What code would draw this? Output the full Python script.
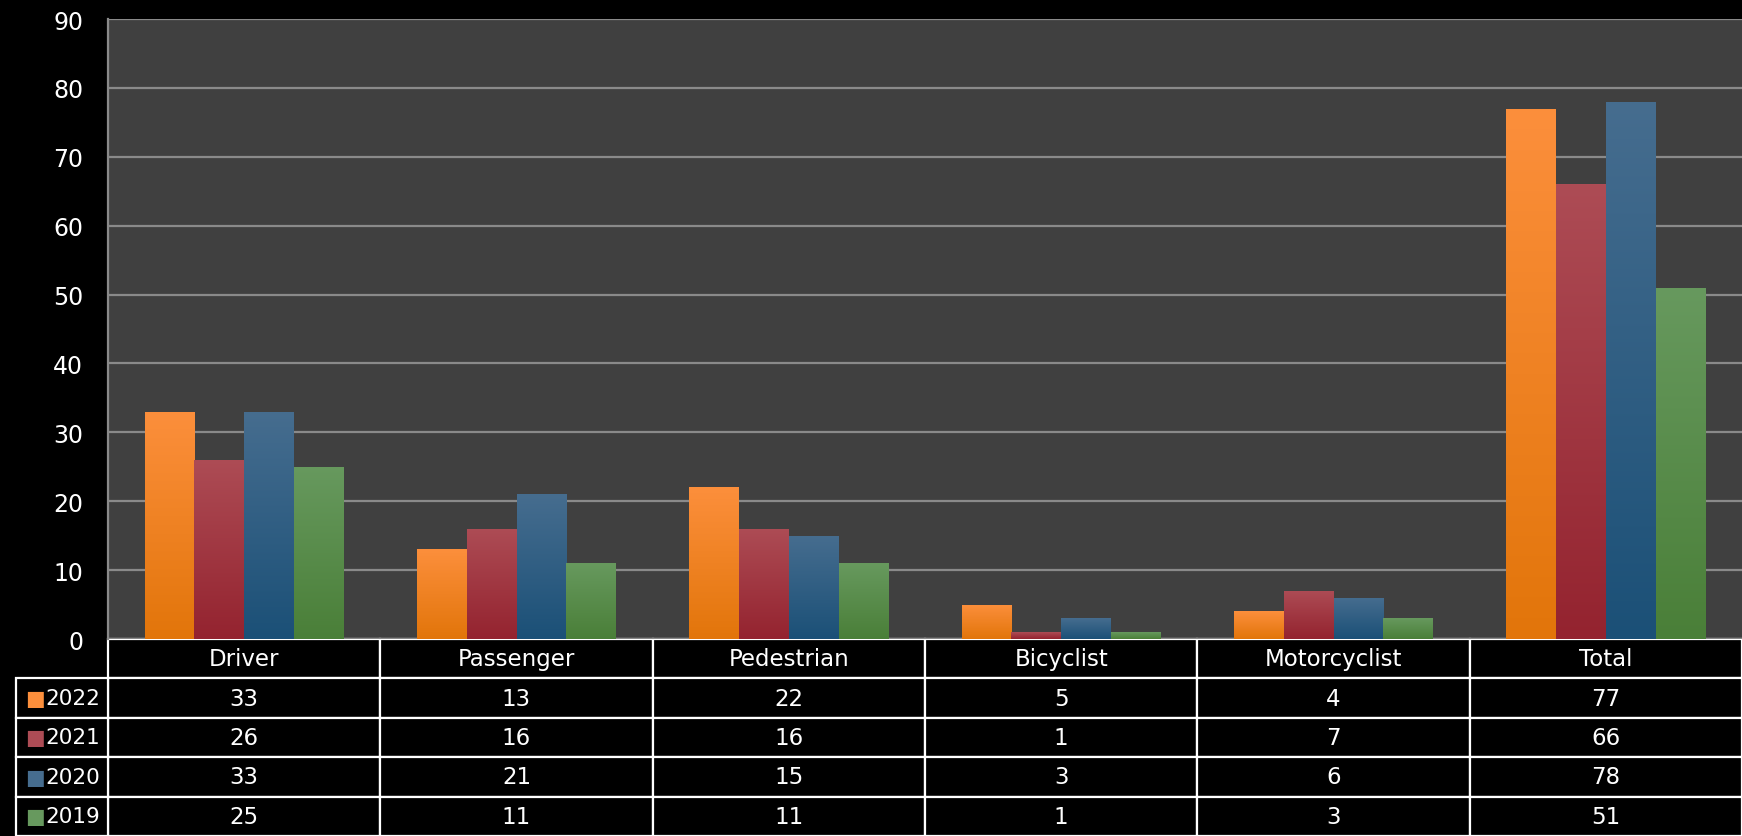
import numpy as np, pandas as pd, matplotlib
matplotlib.use('Agg')
import matplotlib.pyplot as plt, seaborn as sns
from matplotlib.colors import LinearSegmentedColormap

# chart data
categories = ["Driver", "Passenger", "Pedestrian", "Bicyclist", "Motorcyclist", "Total"]
years = ["2022", "2021", "2020", "2019"]
v2022 = [33, 13, 22, 5, 4, 77]
v2021 = [26, 16, 16, 1, 7, 66]
v2020 = [33, 21, 15, 3, 6, 78]
v2019 = [25, 11, 11, 1, 3, 51]

series = [v2022, v2021, v2020, v2019]
df = pd.DataFrame({'cat': categories * 4,
                   'year': [y for y in years for _ in categories],
                   'val': v2022 + v2021 + v2020 + v2019})

# top / bottom colours of each bar gradient
grad = {"2022": ("#fc8f3c", "#e2750a"),
        "2021": ("#ad4c55", "#94232f"),
        "2020": ("#466d8f", "#1b5077"),
        "2019": ("#67995e", "#4a7f38")}
mid = ["#f0822a", "#a03845", "#315f85", "#578c4a"]

sns.set_style('dark')
plt.rcParams['font.family'] = ['DejaVu Sans']

W, H = 1742, 837
fig = plt.figure(figsize=(W / 100, H / 100), dpi=100, facecolor='black')
left, right, top, bottom = 108, 1742, 20, 640
ax = fig.add_axes([left / W, 1 - bottom / H, (right - left) / W, (bottom - top) / H])
ax.set_facecolor('#404040')

sns.barplot(data=df, x='cat', y='val', hue='year', palette=mid, width=0.73,
            legend=False, ax=ax, saturation=1, linewidth=0)

ax.set_ylim(0, 90)
ax.set_xlim(-0.5, 5.5)
xl = ax.get_xlim()

# vertical gradients on each bar
for i, p in enumerate(ax.patches):
    yr = years[i // len(categories)]
    cmap = LinearSegmentedColormap.from_list(yr, [grad[yr][1], grad[yr][0]])
    x0, w, h = p.get_x(), p.get_width(), p.get_height()
    im = ax.imshow(np.linspace(0, 1, 256).reshape(-1, 1), cmap=cmap, origin='lower',
                   extent=[x0, x0 + w, 0, h], aspect='auto', zorder=p.get_zorder() + 0.1)
    im.set_clip_path(p)
ax.set_xlim(*xl)
ax.set_ylim(0, 90)
ax.set_aspect('auto')

ax.set_yticks(range(0, 91, 10))
ax.grid(axis='y', color='#8a8a8a', linewidth=1.6)
ax.set_axisbelow(True)
ax.tick_params(axis='y', colors='white', labelsize=17, length=0, pad=18)
ax.set_xticks([])
ax.set_xlabel('')
ax.set_ylabel('')
for s in ['top', 'right', 'bottom']:
    ax.spines[s].set_visible(False)
ax.spines['left'].set_color('#8a8a8a')
ax.spines['left'].set_linewidth(1.6)

# data table under the axes
axw, axh = right - left, bottom - top
tab_h = H - bottom
row_h = tab_h / 5
tbl = ax.table(cellText=[[str(v) for v in s] for s in series],
               colLabels=categories, cellLoc='center',
               bbox=[0, -tab_h / axh, 1, tab_h / axh])
# row label column (legend keys)
lab = ax.table(cellText=[[''] for _ in years], cellLoc='left',
               bbox=[-(left - 16) / axw, -tab_h / axh, (left - 16) / axw, 4 * row_h / axh])
for t in (tbl, lab):
    t.auto_set_font_size(False)
    for cell in t.get_celld().values():
        cell.set_facecolor('black')
        cell.set_edgecolor('white')
        cell.set_linewidth(1.6)
        cell.get_text().set_color('white')
        cell.get_text().set_fontsize(16.5)

for k, yr in enumerate(years):
    yc = 1 - (bottom + row_h * (k + 1.5)) / H
    fig.text(25 / W, yc, '■', color=grad[yr][0], fontsize=15, va='center', ha='left')
    fig.text(45 / W, yc, yr, color='white', fontsize=15.5, va='center', ha='left')

fig.savefig('out.png', dpi=100, facecolor='black')
